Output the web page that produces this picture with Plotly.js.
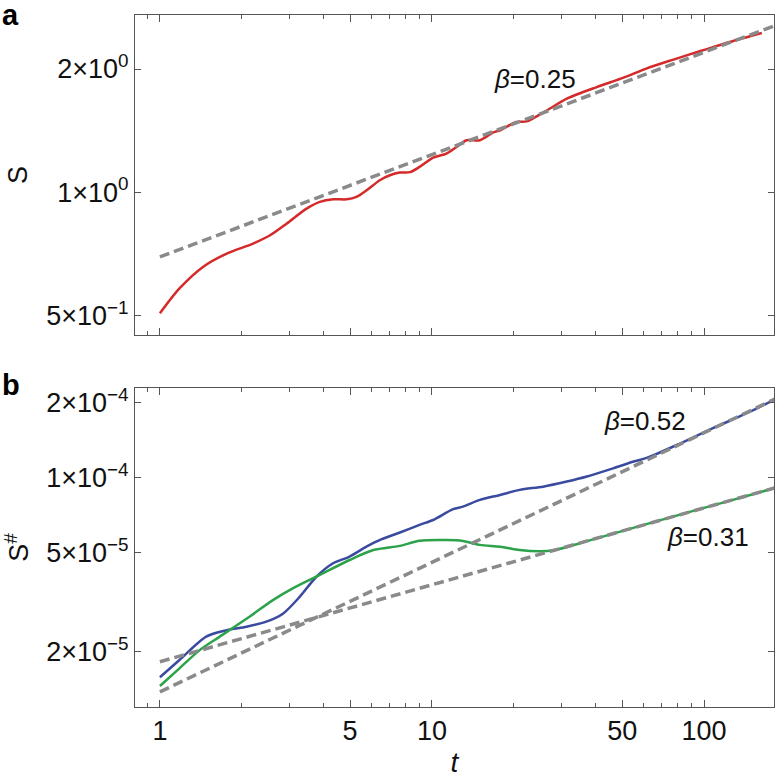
<!DOCTYPE html>
<html>
<head>
<meta charset="utf-8">
<script src="https://cdn.plot.ly/plotly-3.0.1.min.js"></script>
<style>
  html, body { margin: 0; padding: 0; background: #fff; }
  #chart { width: 780px; height: 780px; }
</style>
</head>
<body>
<div id="chart"></div>
<script>
// Panel a: S(t)
const tRed = [1, 1.18, 1.44, 1.76, 2.2, 2.54, 2.92, 3.46, 3.87, 4.34, 4.86, 5.28, 5.75, 6.43, 7.0, 7.62, 8.3, 9.0, 10.1, 11.3, 12.3, 13.4, 15.0, 16.8, 17.8, 20.4, 22.3, 26.5, 31.3, 40.3, 50.6, 61.3, 77.2, 99, 124, 163];
const sRed = [0.506, 0.582, 0.657, 0.708, 0.749, 0.785, 0.838, 0.912, 0.947, 0.961, 0.961, 0.974, 1.011, 1.07, 1.10, 1.117, 1.12, 1.153, 1.215, 1.243, 1.29, 1.34, 1.34, 1.40, 1.417, 1.484, 1.49, 1.586, 1.693, 1.807, 1.905, 2.005, 2.109, 2.222, 2.328, 2.45];

// Panel b: S#(t), two curves
const tBlue = [1, 1.18, 1.48, 1.76, 2.08, 2.46, 2.84, 3.27, 3.76, 4.33, 4.98, 5.74, 6.5, 7.62, 9.0, 10.1, 11.96, 13.0, 15.0, 17.8, 21.0, 25.6, 31.3, 37.1, 46.4, 55.1, 61.5, 81.5, 107.8, 143, 185];
const sBlue = [1.579e-5, 1.853e-5, 2.3e-5, 2.44e-5, 2.52e-5, 2.64e-5, 2.85e-5, 3.33e-5, 4.0e-5, 4.53e-5, 4.82e-5, 5.28e-5, 5.65e-5, 6.02e-5, 6.46e-5, 6.76e-5, 7.47e-5, 7.65e-5, 8.14e-5, 8.52e-5, 8.93e-5, 9.2e-5, 9.64e-5, 1.01e-4, 1.09e-4, 1.16e-4, 1.2e-4, 1.37e-4, 1.58e-4, 1.81e-4, 2.08e-4];

const tGreen = [1, 1.18, 1.4, 1.66, 2.14, 2.61, 3.09, 3.87, 4.98, 6.09, 7.62, 9.0, 11.3, 13.0, 15.0, 17.8, 21.0, 24.9, 28.3, 40, 60, 100, 150, 185];
const sGreen = [1.457e-5, 1.715e-5, 2.03e-5, 2.30e-5, 2.77e-5, 3.23e-5, 3.6e-5, 4.07e-5, 4.67e-5, 5.12e-5, 5.32e-5, 5.58e-5, 5.62e-5, 5.57e-5, 5.37e-5, 5.28e-5, 5.12e-5, 5.06e-5, 5.12e-5, 5.69e-5, 6.46e-5, 7.56e-5, 8.55e-5, 9.14e-5];

// power-law guide lines (end points)
const fitT = [1, 185];
const fitA = [0.695, 2.563];        // beta = 0.25
const fitB52 = [1.38e-5, 2.085e-4]; // beta = 0.52
const fitB31 = [1.824e-5, 9.14e-5]; // beta = 0.31

const xMajor = [1, 5, 10, 50, 100];
const xMinor = [0.9, 2, 3, 4, 6, 7, 8, 9, 20, 30, 40, 60, 70, 80, 90];
const yaVals = [0.5, 1, 2];
const yaText = ['5×10<sup>−1</sup>', '1×10<sup>0</sup>', '2×10<sup>0</sup>'];
const ybVals = [2e-5, 5e-5, 1e-4, 2e-4];
const ybText = ['2×10<sup>−5</sup>', '5×10<sup>−5</sup>', '1×10<sup>−4</sup>', '2×10<sup>−4</sup>'];

const FONT = 'Liberation Sans, Arial, Helvetica, sans-serif';
const dashStyle = {color: '#8a8a8a', width: 3.5, dash: '10px,5px'};

const traces = [
    {x: tRed, y: sRed, xaxis: 'x2', yaxis: 'y2', mode: 'lines',
     line: {color: '#d42a2a', width: 2.5, shape: 'spline', smoothing: 0.8}},
    {x: fitT, y: fitA, xaxis: 'x2', yaxis: 'y2', mode: 'lines', line: dashStyle},
    {x: tBlue, y: sBlue, xaxis: 'x', yaxis: 'y', mode: 'lines',
     line: {color: '#3a4b9f', width: 2.5, shape: 'spline', smoothing: 0.8}},
    {x: tGreen, y: sGreen, xaxis: 'x', yaxis: 'y', mode: 'lines',
     line: {color: '#2ca24a', width: 2.5, shape: 'spline', smoothing: 0.8}},
    {x: fitT, y: fitB52, xaxis: 'x', yaxis: 'y', mode: 'lines', line: dashStyle},
    {x: fitT, y: fitB31, xaxis: 'x', yaxis: 'y', mode: 'lines', line: dashStyle}
];

function xAxis(anchor, showLabels, withTitle) {
    const ax = {
        type: 'log', range: [Math.log10(0.81), Math.log10(180.7)], anchor: anchor,
        tickmode: 'array', tickvals: xMajor, ticktext: xMajor.map(String),
        showticklabels: showLabels,
        ticks: 'inside', ticklen: 7, tickwidth: 1, tickcolor: '#555',
        minor: {tickmode: 'array', tickvals: xMinor, ticks: 'inside', ticklen: 4, tickcolor: '#555'},
        showline: true, linecolor: '#555', linewidth: 1, mirror: 'ticks',
        showgrid: false, zeroline: false,
        tickfont: {family: FONT, size: 27, color: '#111'}
    };
    if (withTitle) {
        ax.title = {text: '<i>t</i>', font: {family: FONT, size: 28, color: '#111'}, standoff: 6};
    }
    return ax;
}

function yAxis(anchor, domain, range, vals, text, title) {
    return {
        type: 'log', range: range, domain: domain, anchor: anchor,
        tickmode: 'array', tickvals: vals, ticktext: text,
        ticks: 'inside', ticklen: 6, tickwidth: 1, tickcolor: '#555',
        showline: true, linecolor: '#555', linewidth: 1, mirror: 'ticks',
        showgrid: false, zeroline: false,
        tickfont: {family: FONT, size: 27, color: '#111'},
        title: {text: title, font: {family: FONT, size: 27, color: '#111'}, standoff: 10}
    };
}

const layout = {
    width: 780, height: 780,
    margin: {l: 135, r: 6, t: 15, b: 73},
    paper_bgcolor: '#fff', plot_bgcolor: '#fff',
    showlegend: false,
    xaxis: xAxis('y', true, true),
    yaxis: yAxis('x', [0, 0.461], [Math.log10(1.2e-5), Math.log10(2.29e-4)], ybVals, ybText, 'S<sup>#</sup>'),
    xaxis2: xAxis('y2', false, false),
    yaxis2: yAxis('x2', [0.5376, 1], [Math.log10(0.448), Math.log10(2.71)], yaVals, yaText, 'S'),
    annotations: [
        {text: '<i>β</i>=0.25', x: Math.log10(23.9), y: Math.log10(1.89), xref: 'x2', yref: 'y2',
         showarrow: false, font: {family: FONT, size: 26, color: '#111'}},
        {text: '<i>β</i>=0.52', x: Math.log10(60.7), y: Math.log10(1.68e-4), xref: 'x', yref: 'y',
         showarrow: false, font: {family: FONT, size: 26, color: '#111'}},
        {text: '<i>β</i>=0.31', x: Math.log10(103.7), y: Math.log10(5.8e-5), xref: 'x', yref: 'y',
         showarrow: false, font: {family: FONT, size: 26, color: '#111'}},
        {text: '<b>a</b>', x: -0.212, y: 1.026, xref: 'paper', yref: 'paper', xanchor: 'left', yanchor: 'top',
         showarrow: false, font: {family: FONT, size: 29, color: '#000'}},
        {text: '<b>b</b>', x: -0.212, y: 0.491, xref: 'paper', yref: 'paper', xanchor: 'left', yanchor: 'top',
         showarrow: false, font: {family: FONT, size: 29, color: '#000'}}
    ]
};

Plotly.newPlot('chart', traces, layout, {displayModeBar: false});
</script>
</body>
</html>
